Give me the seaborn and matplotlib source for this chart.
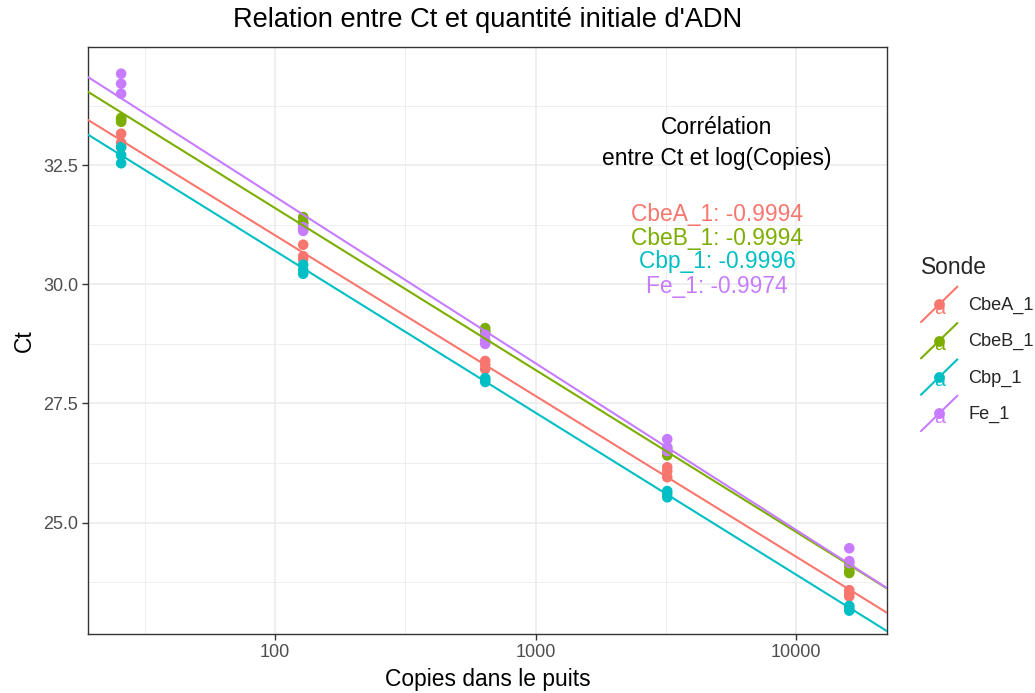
import numpy as np
import pandas as pd
import matplotlib
matplotlib.use("Agg")
import matplotlib.pyplot as plt
import seaborn as sns
from matplotlib.lines import Line2D
from matplotlib.text import Text
from matplotlib.legend_handler import HandlerBase
from matplotlib.ticker import FixedLocator, NullFormatter

# ---------------- data ----------------
copies = [25.6, 128, 640, 3200, 16000]
sondes = ["CbeA_1", "CbeB_1", "Cbp_1", "Fe_1"]
ct_cbea = [[33.16, 32.97, 32.88], [30.83, 30.59, 30.53], [28.39, 28.31, 28.22],
           [26.16, 26.08, 25.95], [23.58, 23.51, 23.45]]
ct_cbeb = [[33.49, 33.45, 33.41], [31.41, 31.31, 31.27], [29.08, 29.02, 28.98],
           [26.56, 26.48, 26.41], [24.08, 23.98, 23.94]]
ct_cbp = [[32.88, 32.71, 32.54], [30.41, 30.30, 30.22], [28.03, 27.99, 27.95],
          [25.66, 25.60, 25.53], [23.25, 23.19, 23.15]]
ct_fe = [[34.42, 34.21, 34.00], [31.20, 31.16, 31.12], [28.94, 28.83, 28.75],
         [26.75, 26.58, 26.50], [24.46, 24.19, 24.15]]
correlations = ["-0.9994", "-0.9994", "-0.9996", "-0.9974"]
x_ticks = [100, 1000, 10000]
x_tick_labels = ["100", "1000", "10000"]
y_ticks = [25.0, 27.5, 30.0, 32.5]
y_tick_labels = ["25.0", "27.5", "30.0", "32.5"]

colors = ["#F8766D", "#7CAE00", "#00BFC4", "#C77CFF"]

rows = []
for s, vals in zip(sondes, [ct_cbea, ct_cbeb, ct_cbp, ct_fe]):
    for c, reps in zip(copies, vals):
        for v in reps:
            rows.append({"Copies": c, "Ct": v, "Sonde": s})
df = pd.DataFrame(rows)

# ---------------- figure ----------------
sns.set_theme(style="white")
plt.rcParams["font.family"] = ["Liberation Sans", "DejaVu Sans"]

W, H = 1035, 693
fig = plt.figure(figsize=(W / 100, H / 100), dpi=100)
L, R, T, B = 88, 887, 47, 634
ax = fig.add_axes([L / W, 1 - B / H, (R - L) / W, (B - T) / H])

ax.set_xscale("log")
xmin, xmax = 10 ** 1.281, 10 ** 4.349
ymin, ymax = 22.66, 34.98
ax.set_xlim(xmin, xmax)
ax.set_ylim(ymin, ymax)

# grid
ax.set_facecolor("white")
ax.xaxis.set_major_locator(FixedLocator(x_ticks))
ax.xaxis.set_minor_locator(FixedLocator([10 ** 1.5, 10 ** 2.5, 10 ** 3.5]))
ax.xaxis.set_minor_formatter(NullFormatter())
ax.yaxis.set_major_locator(FixedLocator(y_ticks))
ax.yaxis.set_minor_locator(FixedLocator([23.75, 26.25, 28.75, 31.25, 33.75]))
ax.set_xticklabels(x_tick_labels)
ax.set_yticklabels(y_tick_labels)
ax.grid(which="major", color="#EBEBEB", lw=1.1)
ax.grid(which="minor", color="#EBEBEB", lw=0.55)
ax.set_axisbelow(True)

# regression lines (Ct ~ log(copies)), across the full panel
for s, col in zip(sondes, colors):
    sub = df[df["Sonde"] == s]
    sns.regplot(data=sub, x="Copies", y="Ct", logx=True, ci=None, scatter=False,
                truncate=False, color=col, line_kws={"lw": 1.5, "zorder": 3}, ax=ax)

sns.scatterplot(data=df, x="Copies", y="Ct", hue="Sonde", hue_order=sondes,
                palette=colors, s=58, linewidth=0, legend=False, ax=ax, zorder=2)

ax.set_xlim(xmin, xmax)
ax.set_ylim(ymin, ymax)

for sp in ax.spines.values():
    sp.set_color("#333333")
    sp.set_linewidth(1.0)
ax.tick_params(axis="both", which="major", length=4, width=1.0, color="#333333",
               labelsize=13, labelcolor="#4D4D4D", pad=3, bottom=True, left=True)
ax.tick_params(axis="both", which="minor", length=0)

ax.set_xlabel("Copies dans le puits", fontsize=16.4, color="black", labelpad=5)
ax.set_ylabel("Ct", fontsize=16.4, color="black", labelpad=5)

fig.text(487.5 / W, 1 - 20 / H, "Relation entre Ct et quantité initiale d'ADN",
         ha="center", va="center", fontsize=19.6, color="black")

# correlation annotation
cx = 717 / W
fig.text(cx, 1 - 127 / H, "Corrélation", ha="center", va="center", fontsize=16.4,
         color="black")
fig.text(cx, 1 - 159 / H, "entre Ct et log(Copies)", ha="center", va="center",
         fontsize=16.4, color="black")
for i, (s, r, col) in enumerate(zip(sondes, correlations, colors)):
    fig.text(cx, 1 - (214 + 24 * i) / H, f"{s}: {r}", ha="center", va="center",
             fontsize=16.4, color=col)


# legend
class KeyHandler(HandlerBase):
    def create_artists(self, legend, orig_handle, xdescent, ydescent, width, height,
                       fontsize, trans):
        c = orig_handle.get_color()
        x0, y0 = -xdescent, -ydescent
        line = Line2D([x0, x0 + width], [y0, y0 + height], color=c, lw=1.5,
                      transform=trans)
        txt = Text(x0 + width / 2, y0 + height / 2 - 3.5, "a", color=c, ha="center",
                   va="center", fontsize=14, transform=trans)
        dot = Line2D([x0 + width / 2], [y0 + height / 2], marker="o", ms=7.8,
                     color=c, ls="", mew=0, transform=trans)
        return [line, txt, dot]


handles = [Line2D([], [], color=c) for c in colors]
leg = fig.legend(handles, sondes, loc="upper left",
                 bbox_to_anchor=(921 / W, 1 - 256 / H), frameon=False,
                 borderaxespad=0, borderpad=0, fontsize=13.1,
                 title="Sonde", title_fontsize=16.4, alignment="left",
                 handlelength=2.0, handleheight=2.62, labelspacing=0.05,
                 handletextpad=0.6, handler_map={Line2D: KeyHandler()})
leg._legend_box.sep = 5.5

fig.savefig("out.png", dpi=100)
